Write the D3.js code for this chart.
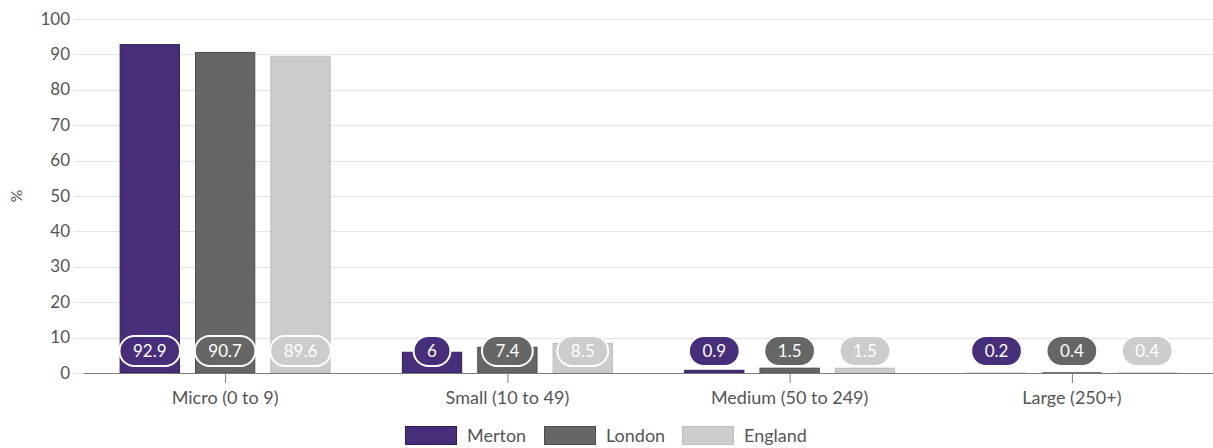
<!DOCTYPE html>
<html>
<head>
<meta charset="utf-8">
<script src="https://cdn.jsdelivr.net/npm/d3@7"></script>
<style>
  html, body { margin: 0; padding: 0; background: #fff; }
  svg { display: block; font-family: Lato, "Open Sans", sans-serif; }
</style>
</head>
<body>
<svg id="chart" width="1213" height="448"></svg>
<script>
// Business size bands and share of businesses (%) in each area
const categories = ["Micro (0 to 9)", "Small (10 to 49)", "Medium (50 to 249)", "Large (250+)"];
const seriesNames = ["Merton", "London", "England"];
const merton = [92.9, 6, 0.9, 0.2];
const london = [90.7, 7.4, 1.5, 0.4];
const england = [89.6, 8.5, 1.5, 0.4];
const yTicks = [0, 10, 20, 30, 40, 50, 60, 70, 80, 90, 100];

const fills = ["#472e7a", "#666666", "#cccccc"];
const strokes = ["#2f1d5a", "#4d4d4d", "#bdbdbd"];
const seriesValues = [merton, london, england];

const svg = d3.select("#chart");
const plot = { left: 84, right: 1213, top: 19, bottom: 373 };

const x = d3.scaleBand().domain(categories).range([plot.left, plot.right]).paddingInner(0).paddingOuter(0);
const xInner = d3.scaleBand().domain(seriesNames).range([0, 211]).paddingInner(0.2);
const groupOffset = (x.bandwidth() - 211) / 2;
const y = d3.scaleLinear().domain([0, 100]).range([plot.bottom, plot.top]);

// Horizontal gridlines
svg.append("g")
  .selectAll("line")
  .data(yTicks)
  .join("line")
  .attr("x1", 74).attr("x2", plot.right)
  .attr("y1", d => Math.round(y(d)) + 0.5).attr("y2", d => Math.round(y(d)) + 0.5)
  .attr("stroke", "#e3e3e3").attr("stroke-width", 1);

// Y axis labels
const yAxis = d3.axisLeft(y).tickValues(yTicks).tickSize(0).tickPadding(0);
const yg = svg.append("g").attr("transform", `translate(70,0)`).call(yAxis);
yg.select(".domain").remove();
yg.selectAll("text")
  .attr("font-family", "Lato, sans-serif")
  .attr("font-size", 17).attr("fill", "#555").attr("dy", "0.3em");

// Y axis title
svg.append("text")
  .attr("transform", `translate(22,${(plot.top + plot.bottom) / 2}) rotate(-90)`)
  .attr("text-anchor", "middle")
  .attr("font-size", 16).attr("fill", "#555")
  .text("%");

// Bars
const groups = svg.append("g").selectAll("g")
  .data(categories)
  .join("g")
  .attr("transform", d => `translate(${x(d) + groupOffset},0)`);

const barData = (cat, ci) => seriesNames.map((s, si) => ({ s, si, v: seriesValues[si][ci] }));

groups.each(function (cat, ci) {
  const g = d3.select(this);
  const data = barData(cat, ci);
  g.selectAll("rect.bar")
    .data(data)
    .join("rect")
    .attr("class", "bar")
    .attr("x", d => xInner(d.s) + 0.5)
    .attr("width", xInner.bandwidth() - 1)
    .attr("y", d => y(d.v) + 0.5)
    .attr("height", d => Math.max(0, y(0) - y(d.v) - 0.5))
    .attr("fill", d => fills[d.si])
    .attr("stroke", d => strokes[d.si])
    .attr("stroke-width", d => (y(0) - y(d.v)) > 2 ? 1 : 0);
});

// X axis line and ticks
svg.append("line")
  .attr("x1", plot.left).attr("x2", plot.right)
  .attr("y1", plot.bottom + 0.5).attr("y2", plot.bottom + 0.5)
  .attr("stroke", "#7a7a7a").attr("stroke-width", 1);

const xg = svg.append("g").attr("transform", `translate(0,${plot.bottom})`)
  .call(d3.axisBottom(x).tickSize(10).tickPadding(8));
xg.select(".domain").remove();
xg.selectAll(".tick line").attr("stroke", "#7a7a7a").attr("transform", "translate(0.5,0)");
xg.selectAll("text")
  .attr("font-family", "Lato, sans-serif")
  .attr("font-size", 18).attr("fill", "#555");

// Value labels: pills near the bottom of each bar
groups.each(function (cat, ci) {
  const g = d3.select(this);
  const data = barData(cat, ci);
  const lbl = g.selectAll("g.lbl").data(data).join("g").attr("class", "lbl")
    .attr("transform", d => `translate(${xInner(d.s) + xInner.bandwidth() / 2},${y(0) - 22})`);
  lbl.append("text")
    .attr("text-anchor", "middle")
    .attr("dy", "0.35em")
    .attr("font-size", 17)
    .attr("fill", "#fff")
    .text(d => d.v);
  lbl.each(function () {
    const node = d3.select(this);
    const w = node.select("text").node().getComputedTextLength() + 27;
    node.insert("rect", "text")
      .attr("x", -w / 2).attr("y", -15)
      .attr("width", w).attr("height", 30)
      .attr("rx", 15).attr("ry", 15)
      .attr("fill", d => fills[d.si])
      .attr("stroke", "#fff").attr("stroke-width", 2);
  });
});

// Legend
const legendItems = [
  { name: "Merton", x: 405 },
  { name: "London", x: 544 },
  { name: "England", x: 682 }
];
const legend = svg.append("g").selectAll("g")
  .data(legendItems)
  .join("g")
  .attr("transform", d => `translate(${d.x},426)`);
legend.append("rect")
  .attr("x", 0.5).attr("y", 0.5)
  .attr("width", 51).attr("height", 18)
  .attr("fill", (d, i) => fills[i])
  .attr("stroke", (d, i) => strokes[i]);
legend.append("text")
  .attr("x", 62).attr("y", 10).attr("dy", "0.35em")
  .attr("font-size", 18).attr("fill", "#555")
  .text(d => d.name);
</script>
</body>
</html>
